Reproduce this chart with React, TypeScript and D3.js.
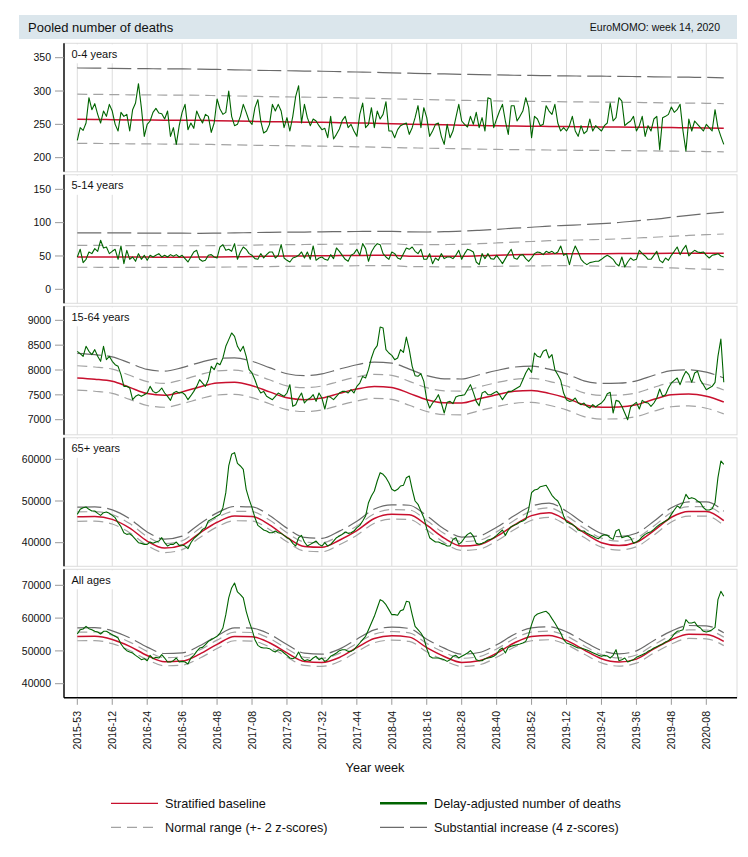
import React, { useRef, useEffect } from 'react';
import * as d3 from 'd3';

// x axis: week index 0 = 2015-53, last = 2020-14
const weekTicks = [
  '2015-53', '2016-12', '2016-24', '2016-36', '2016-48', '2017-08', '2017-20',
  '2017-32', '2017-44', '2018-04', '2018-16', '2018-28', '2018-40', '2018-52',
  '2019-12', '2019-24', '2019-36', '2019-48', '2020-08',
];
const TICK_STEP = 12; // weeks between labelled ticks
const BASE_STEP = 6; // baseline samples every 6 weeks

// ---- 0-4 years
const deaths0to4 = [
  226, 245, 241, 252, 290, 272, 281, 265, 252, 270,
  262, 280, 270, 250, 240, 268, 262, 265, 240, 272,
  282, 311, 275, 232, 250, 255, 268, 274, 267, 266,
  258, 270, 232, 245, 220, 248, 268, 280, 242, 252,
  244, 270, 260, 252, 265, 262, 238, 252, 288, 273,
  265, 268, 300, 262, 248, 250, 262, 280, 268, 255,
  250, 275, 287, 255, 237, 240, 250, 280, 270, 280,
  270, 245, 260, 240, 262, 292, 308, 252, 280, 260,
  248, 258, 255, 248, 242, 244, 230, 262, 228, 235,
  243, 256, 262, 245, 250, 240, 232, 265, 282, 245,
  250, 275, 245, 270, 258, 265, 284, 240, 240, 230,
  242, 248, 250, 252, 235, 245, 260, 278, 245, 275,
  260, 232, 240, 250, 252, 232, 220, 250, 230, 240,
  260, 280, 255, 250, 246, 262, 250, 268, 245, 260,
  240, 290, 288, 245, 258, 270, 280, 255, 235, 278,
  278, 255, 262, 270, 290, 275, 230, 262, 258, 248,
  250, 278, 270, 265, 280, 252, 240, 245, 240, 248,
  262, 240, 232, 248, 236, 240, 258, 240, 248, 244,
  240, 248, 252, 282, 255, 260, 290, 285, 248, 252,
  255, 262, 240, 248, 262, 232, 248, 240, 258, 262,
  212, 260, 262, 265, 276, 268, 272, 280, 240, 210,
  258, 240, 255, 250, 245, 240, 250, 245, 240, 272,
  245, 232, 220,
];
const baseline0to4 = [
  257.5, 257.3, 257, 256.7, 256.5, 256.3, 256.2, 256, 255.5, 255,
  254.5, 254, 253.7, 253.3, 253, 252.5, 252, 251.5, 250.8, 250.3,
  249.8, 249.3, 248.8, 248.3, 247.9, 247.5, 247.2, 246.9, 246.6, 246.4,
  246.2, 246, 245.7, 245.4, 245.1, 244.8, 244.5, 244,
];
const sd0to4 = [1.93];
const ticks0to4 = [200, 250, 300, 350];

// ---- 5-14 years
const deaths5to14 = [
  48.5, 60, 40, 45, 56, 53.5, 61, 57, 73.5, 62,
  63.5, 53.5, 57, 60, 45, 65, 38.5, 58.5, 45, 48.5,
  42, 53.5, 45, 51, 43.5, 51, 48.5, 51, 53.5, 48.5,
  51, 48.5, 52, 49.5, 52, 48.5, 51, 46, 41, 48.5,
  56, 58.5, 45, 42, 43.5, 51, 52, 48.5, 47, 63.5,
  67, 58.5, 60, 57, 68.5, 45, 56, 63.5, 60, 53.5,
  51, 46, 45, 53.5, 47, 52, 56, 56, 47, 51,
  67, 47, 43.5, 41, 47, 48.5, 51, 56, 47, 56,
  45, 65, 43.5, 47, 48.5, 45, 43.5, 52, 46, 62,
  57, 51, 45, 42, 51, 53.5, 60, 51, 68.5, 61,
  42, 56, 63.5, 68.5, 67, 53.5, 48.5, 45, 56, 53.5,
  47, 45, 53.5, 62, 60, 63.5, 57, 53.5, 60, 45,
  45, 53.5, 38.5, 47, 43.5, 53.5, 46, 48.5, 48.5, 46,
  51, 58.5, 45, 53.5, 60, 58.5, 56, 41, 37, 53.5,
  46, 53.5, 46, 45, 51, 45, 38.5, 46, 53.5, 60,
  47, 45, 51, 52, 46, 42, 47, 53.5, 56, 55,
  52, 57, 55, 57, 53.5, 56, 65, 51, 53.5, 37,
  53.5, 65, 56, 45, 40, 37, 40, 41, 42, 42,
  45, 48.5, 51, 48.5, 45, 38.5, 35, 48.5, 33.5, 41,
  47, 43.5, 45, 58.5, 53.5, 50, 45, 45, 51, 57,
  43.5, 40, 47, 43.5, 51, 57, 63.5, 52, 60, 66,
  50, 55, 58.5, 56, 55, 56, 51, 47, 51, 52,
  53.5, 50, 48.5,
];
const baseline5to14 = [
  48.5, 48.5, 48.4, 48.3, 48.3, 48.2, 48.2, 48.3, 48.5, 48.8,
  49.2, 49.5, 49.8, 50.1, 50.4, 50.6, 50.8, 51, 51, 49.6,
  49.5, 49.5, 49.6, 50.2, 51, 51.8, 52.3, 53, 53.5, 53.5,
  53.5, 53.6, 53.8, 53.9, 54, 54, 54, 54,
];
const sd5to14 = [
  1.5, 1.5, 1.5, 1.5, 1.49, 1.49, 1.49, 1.48, 1.48, 1.48,
  1.48, 1.48, 1.48, 1.47, 1.47, 1.47, 1.47, 1.47, 1.47, 1.5,
  1.5, 1.52, 1.54, 1.56, 1.58, 1.61, 1.64, 1.67, 1.69, 1.73,
  1.78, 1.84, 1.92, 2.0, 2.1, 2.2, 2.29, 2.37,
];
const ticks5to14 = [0, 50, 100, 150];

// ---- 15-64 years
const deaths15to64 = [
  8376, 8329, 8275, 8477, 8376, 8309, 8410, 8275, 8175, 8477,
  8208, 8275, 8175, 8107, 8074, 7906, 7671, 7671, 7638, 7403,
  7470, 7503, 7470, 7503, 7537, 7671, 7570, 7537, 7570, 7638,
  7537, 7470, 7389, 7537, 7570, 7537, 7550, 7503, 7403, 7483,
  7570, 7671, 7805, 7738, 7671, 7805, 8074, 8007, 8141, 8107,
  8242, 8477, 8611, 8745, 8678, 8477, 8376, 8477, 8275, 8007,
  7940, 7805, 7638, 7537, 7570, 7470, 7436, 7403, 7470, 7537,
  7503, 7470, 7537, 7705, 7269, 7302, 7436, 7537, 7336, 7403,
  7436, 7503, 7369, 7537, 7436, 7215, 7470, 7450, 7403, 7470,
  7537, 7570, 7570, 7537, 7604, 7537, 7671, 7738, 7872, 7839,
  8007, 8242, 8410, 8490, 8866, 8846, 8410, 8342, 8295, 8208,
  8242, 8410, 8356, 8664, 8410, 8074, 7886, 7873, 7926, 7772,
  7403, 7235, 7336, 7403, 7503, 7336, 7134, 7349, 7369, 7322,
  7456, 7483, 7490, 7503, 7604, 7705, 7550, 7369, 7282, 7537,
  7570, 7503, 7503, 7537, 7570, 7503, 7403, 7490, 7570, 7570,
  7604, 7638, 7671, 7805, 7940, 8040, 7953, 8342, 8275, 8255,
  8376, 8410, 8242, 8309, 8007, 7906, 7792, 7537, 7403, 7369,
  7383, 7436, 7336, 7302, 7336, 7269, 7235, 7302, 7255, 7302,
  7336, 7403, 7524, 7550, 7134, 7389, 7369, 7269, 7134, 7000,
  7255, 7302, 7349, 7215, 7389, 7349, 7336, 7269, 7336, 7436,
  7618, 7470, 7503, 7638, 7738, 7792, 7839, 7705, 7859, 7973,
  7906, 7752, 7940, 7973, 7792, 7705, 7604, 7638, 7671, 7752,
  8275, 8624, 7752,
];
const baseline15to64 = [
  7840, 7815, 7772, 7650, 7525, 7490, 7560, 7660, 7738, 7752,
  7685, 7560, 7440, 7403, 7436, 7530, 7617, 7670, 7650, 7530,
  7403, 7340, 7336, 7420, 7503, 7570, 7590, 7530, 7436, 7300,
  7250, 7255, 7300, 7410, 7500, 7517, 7470, 7356,
];
const sd15to64 = [4.1];
const ticks15to64 = [7000, 7500, 8000, 8500, 9000];

// ---- 65+ years
const deaths65plus = [
  46800, 48000, 48400, 48560, 48000, 47600, 47600, 47040, 46560, 47200,
  47360, 47040, 46560, 46000, 44800, 43840, 42400, 42000, 42160, 41600,
  40800, 40000, 39840, 39600, 39600, 40160, 39840, 40160, 40400, 41200,
  40000, 39200, 39600, 39600, 40160, 39360, 39440, 39200, 38560, 40000,
  40960, 41600, 42240, 43200, 43600, 45200, 45600, 46000, 46400, 46800,
  48400, 52000, 58400, 61200, 61600, 59040, 58400, 57600, 52800, 50400,
  48400, 46000, 44160, 43600, 43040, 42800, 42400, 42400, 42800, 42400,
  42240, 41760, 41200, 40800, 39840, 39200, 41200, 41760, 40160, 39200,
  39600, 40000, 40400, 39600, 39200, 40000, 39200, 39600, 40400, 41200,
  41600, 42000, 42560, 42240, 42400, 42800, 43600, 44160, 45200, 46400,
  49600, 51200, 52400, 54800, 56800, 56400, 55600, 54400, 52800, 52400,
  52800, 53600, 53760, 55600, 56000, 52800, 50000, 49200, 47600, 46000,
  43360, 41200, 40640, 40160, 40160, 39840, 39600, 39200, 39200, 40800,
  41200, 39600, 40160, 41200, 42000, 42400, 41600, 39840, 39600, 39840,
  40160, 40640, 40800, 41200, 41760, 42400, 43040, 41760, 43040, 43840,
  44160, 44480, 44960, 45200, 45600, 48000, 52000, 52640, 52800, 53440,
  53600, 53760, 52560, 51360, 50560, 50000, 48640, 46400, 44960, 44640,
  44400, 43840, 43040, 42800, 42800, 42240, 41920, 41600, 41200, 40960,
  41600, 41920, 41760, 41200, 40800, 42800, 43200, 41200, 41440, 41600,
  41200, 39840, 40160, 40640, 41440, 42000, 42400, 42640, 43200, 43840,
  44400, 44800, 45200, 45600, 46800, 47840, 48800, 48400, 49600, 51600,
  50560, 50800, 50560, 50000, 49600, 48400, 47840, 47840, 48160, 49600,
  55600, 59600, 58800,
];
const baseline65plus = [
  46240, 46300, 45600, 43500, 40400, 38700, 39400, 42300, 44900, 46400,
  46300, 44300, 41300, 39100, 38900, 40600, 42900, 45800, 46800, 46700,
  44200, 41100, 39200, 39500, 41500, 44200, 46500, 47200, 45300, 42400,
  40000, 39300, 40100, 42900, 46100, 47500, 47500, 45300,
];
const sd65plus = [10.5];
const ticks65plus = [40000, 50000, 60000];

// ---- All ages
const deathsAll = [
  55150, 56470, 56680, 57490, 56780, 56470, 55970, 55760, 55150, 55970,
  55970, 55460, 54950, 54440, 53930, 52100, 50880, 50070, 49660, 49350,
  48640, 48030, 47320, 47630, 47010, 48640, 47630, 48030, 47830, 48850,
  47830, 46610, 46610, 47010, 47830, 46610, 46810, 46610, 46000, 47830,
  48640, 49860, 50880, 51080, 51900, 52910, 53420, 53930, 54440, 55460,
  56980, 61050, 66140, 69190, 70710, 67970, 67150, 66140, 62070, 59020,
  56470, 53420, 51690, 51080, 50880, 50880, 50680, 50070, 49660, 50370,
  50070, 49350, 48640, 47830, 47630, 48030, 49660, 47830, 47010, 47320,
  47010, 47830, 48340, 47320, 47830, 46810, 47320, 48340, 48850, 49350,
  50070, 50370, 50370, 49860, 49860, 50370, 51390, 52410, 53420, 54440,
  56470, 58510, 60540, 63080, 65630, 65120, 64100, 62580, 61050, 61050,
  60850, 62270, 62580, 65120, 64920, 61050, 57490, 56470, 55460, 53930,
  50680, 48340, 47830, 47830, 47830, 47630, 47320, 46810, 47320, 48340,
  48640, 47830, 48340, 48850, 49350, 50070, 49050, 47320, 47010, 47010,
  47630, 47830, 48030, 48340, 49050, 50370, 50880, 49350, 51080, 51390,
  51690, 51900, 52100, 52410, 52910, 54950, 58000, 60540, 61250, 61560,
  61860, 62070, 61250, 59830, 58510, 56980, 55460, 53420, 52410, 52100,
  51690, 51290, 50880, 50880, 50580, 50270, 49860, 49450, 49050, 48640,
  48340, 48640, 48440, 47830, 48640, 50370, 47010, 47320, 47830, 46610,
  47010, 47320, 48030, 48440, 48850, 49250, 49860, 50270, 50880, 51290,
  51690, 52100, 52710, 53120, 53930, 55150, 55970, 56170, 56470, 59520,
  58510, 58510, 58810, 57490, 56980, 55970, 55760, 55970, 56470, 57190,
  65630, 68170, 66650,
];
const baselineAll = [
  54400, 54450, 53500, 51400, 48600, 46700, 46900, 49000, 52000, 54400,
  54300, 52500, 49400, 46800, 46500, 48000, 51000, 53800, 54600, 54200,
  51000, 48300, 46500, 47000, 49300, 52400, 54400, 54700, 53200, 50300,
  47600, 46600, 47500, 50600, 53400, 55100, 55000, 52900,
];
const sdAll = [11.5];
const ticksAll = [40000, 50000, 60000, 70000];

interface PanelDef {
  label: string;
  deaths: number[];
  baseline: number[];
  sd: number[];
  ticks: number[];
  domain: [number, number];
}

const panels: PanelDef[] = [
  { label: '0-4 years', deaths: deaths0to4, baseline: baseline0to4, sd: sd0to4, ticks: ticks0to4, domain: [178.8, 371.6] },
  { label: '5-14 years', deaths: deaths5to14, baseline: baseline5to14, sd: sd5to14, ticks: ticks5to14, domain: [-21, 171.8] },
  { label: '15-64 years', deaths: deaths15to64, baseline: baseline15to64, sd: sd15to64, ticks: ticks15to64, domain: [6696, 9282] },
  { label: '65+ years', deaths: deaths65plus, baseline: baseline65plus, sd: sd65plus, ticks: ticks65plus, domain: [34340, 65160] },
  { label: 'All ages', deaths: deathsAll, baseline: baselineAll, sd: sdAll, ticks: ticksAll, domain: [35700, 74880] },
];

// z-score band on the 2/3-power scale used by the baseline model
const band = (b: number, s: number, z: number) =>
  Math.pow(Math.max(0, Math.pow(b, 2 / 3) + z * s), 1.5);

const FONT = '"Liberation Sans", Arial, sans-serif';
const COL_BASE = '#c8102e';
const COL_DEATHS = '#006400';
const COL_2Z = '#a3a3a3';
const COL_4Z = '#6b6b6b';
const COL_GRID = '#dcdcdc';
const DASH_2Z = '10,6';
const DASH_4Z = '24,6';

const App: React.FC = () => {
  const svgRef = useRef<SVGSVGElement>(null);

  useEffect(() => {
    const svg = d3.select(svgRef.current);
    svg.selectAll('*').remove();

    const left = 64;
    const right = 737;
    const firstTop = 43.3;
    const panelH = 128.5;
    const panelStep = 131.5;

    const x = d3.scaleLinear().domain([0, (weekTicks.length - 1) * TICK_STEP]).range([77.3, 706.3]);

    // title bar
    svg.append('rect').attr('x', 19).attr('y', 15).attr('width', 718).attr('height', 24).attr('fill', '#dbe6ec');
    svg.append('text').attr('x', 28).attr('y', 32).attr('font-family', FONT).attr('font-size', 13)
      .attr('fill', '#111').text('Pooled number of deaths');
    svg.append('text').attr('x', 720).attr('y', 31).attr('text-anchor', 'end').attr('font-family', FONT)
      .attr('font-size', 10.5).attr('fill', '#111').text('EuroMOMO: week 14, 2020');

    const defs = svg.append('defs');

    panels.forEach((p, k) => {
      const top = firstTop + k * panelStep;
      const bottom = top + panelH;
      const y = d3.scaleLinear().domain(p.domain).range([bottom, top]);
      const g = svg.append('g');

      g.append('rect').attr('x', left).attr('y', top).attr('width', right - left).attr('height', panelH)
        .attr('fill', '#fff').attr('stroke', COL_GRID).attr('stroke-width', 1);

      // vertical gridlines
      weekTicks.forEach((_, t) => {
        const xx = x(t * TICK_STEP);
        g.append('line').attr('x1', xx).attr('x2', xx).attr('y1', top).attr('y2', bottom)
          .attr('stroke', COL_GRID).attr('stroke-width', 1);
      });

      const clipId = `panel-clip-${k}`;
      defs.append('clipPath').attr('id', clipId).append('rect')
        .attr('x', left).attr('y', top).attr('width', right - left).attr('height', panelH);
      const plot = g.append('g').attr('clip-path', `url(#${clipId})`);

      const samples = p.baseline.map((b, j) => ({
        w: j * BASE_STEP,
        b,
        s: p.sd[Math.min(j, p.sd.length - 1)],
      }));

      const smooth = d3.line<{ w: number; v: number }>()
        .x(d => x(d.w))
        .y(d => y(d.v))
        .curve(d3.curveMonotoneX);

      const bands = [
        { z: 4, color: COL_4Z, dash: DASH_4Z },
        { z: 2, color: COL_2Z, dash: DASH_2Z },
        { z: -2, color: COL_2Z, dash: DASH_2Z },
      ];
      bands.forEach(bd => {
        plot.append('path')
          .attr('d', smooth(samples.map(s => ({ w: s.w, v: band(s.b, s.s, bd.z) }))) || '')
          .attr('fill', 'none')
          .attr('stroke', bd.color)
          .attr('stroke-width', 1.2)
          .attr('stroke-dasharray', bd.dash);
      });

      plot.append('path')
        .attr('d', smooth(samples.map(s => ({ w: s.w, v: s.b }))) || '')
        .attr('fill', 'none')
        .attr('stroke', COL_BASE)
        .attr('stroke-width', 1.5);

      const line = d3.line<number>()
        .x((_, i) => x(i))
        .y(d => y(d));
      plot.append('path')
        .attr('d', line(p.deaths) || '')
        .attr('fill', 'none')
        .attr('stroke', COL_DEATHS)
        .attr('stroke-width', 1.1)
        .attr('stroke-linejoin', 'round');

      // left axis
      g.append('line').attr('x1', left).attr('x2', left).attr('y1', top).attr('y2', bottom)
        .attr('stroke', '#000').attr('stroke-width', 1.4);
      p.ticks.forEach(t => {
        const yy = y(t);
        g.append('line').attr('x1', 55).attr('x2', left).attr('y1', yy).attr('y2', yy)
          .attr('stroke', '#999').attr('stroke-width', 1);
        g.append('text').attr('x', 51).attr('y', yy).attr('dy', '0.36em').attr('text-anchor', 'end')
          .attr('font-family', FONT).attr('font-size', 10.5).attr('fill', '#111').text(String(t));
      });

      // panel label
      const lbl = g.append('text').attr('x', 71.5).attr('y', top + 14.5).attr('font-family', FONT)
        .attr('font-size', 11).attr('fill', '#111').text(p.label);
      const bb = (lbl.node() as SVGTextElement).getBBox();
      g.insert('rect', 'text').attr('x', left + 1).attr('y', top + 1).attr('width', bb.x + bb.width + 4 - left)
        .attr('height', 19).attr('fill', '#fff');
      lbl.raise();
    });

    // x axis
    const axisY = firstTop + 4 * panelStep + panelH;
    svg.append('line').attr('x1', left).attr('x2', right).attr('y1', axisY).attr('y2', axisY)
      .attr('stroke', '#000').attr('stroke-width', 1.4);
    weekTicks.forEach((lab, t) => {
      const xx = x(t * TICK_STEP);
      svg.append('line').attr('x1', xx).attr('x2', xx).attr('y1', axisY + 0.7).attr('y2', axisY + 7)
        .attr('stroke', '#999').attr('stroke-width', 1);
      svg.append('text')
        .attr('transform', `translate(${xx},711) rotate(-90)`)
        .attr('dy', '0.36em')
        .attr('text-anchor', 'end')
        .attr('font-family', FONT)
        .attr('font-size', 10.5)
        .attr('fill', '#111')
        .text(lab);
    });
    svg.append('text').attr('x', 375).attr('y', 771.5).attr('text-anchor', 'middle').attr('font-family', FONT)
      .attr('font-size', 12.7).attr('fill', '#111').text('Year week');

    // legend
    const legend = [
      { label: 'Stratified baseline', x: 111, y: 803.3, color: COL_BASE, width: 1.2, dash: null as string | null },
      { label: 'Normal range (+- 2 z-scores)', x: 111, y: 827.3, color: COL_2Z, width: 1.2, dash: DASH_2Z },
      { label: 'Delay-adjusted number of deaths', x: 380, y: 803.3, color: COL_DEATHS, width: 2.6, dash: null },
      { label: 'Substantial increase (4 z-scores)', x: 380, y: 827.3, color: COL_4Z, width: 1.2, dash: DASH_4Z },
    ];
    legend.forEach(item => {
      const ln = svg.append('line').attr('x1', item.x).attr('x2', item.x + 47).attr('y1', item.y).attr('y2', item.y)
        .attr('stroke', item.color).attr('stroke-width', item.width);
      if (item.dash) ln.attr('stroke-dasharray', item.dash);
      svg.append('text').attr('x', item.x + 54).attr('y', item.y).attr('dy', '0.36em').attr('font-family', FONT)
        .attr('font-size', 12.7).attr('fill', '#111').text(item.label);
    });
  }, []);

  return (
    <div style={{ position: 'absolute', left: 0, top: 0, background: '#fff' }}>
      <svg ref={svgRef} width={748} height={857} style={{ display: 'block' }} />
    </div>
  );
};

export default App;
